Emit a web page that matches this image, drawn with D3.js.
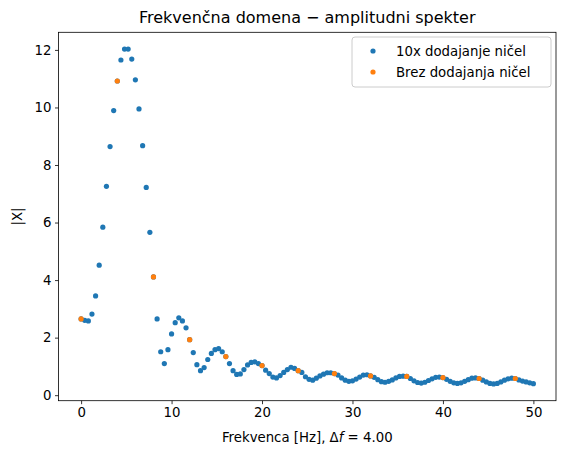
<!DOCTYPE html>
<html><head><meta charset="utf-8">
<script src="https://cdn.jsdelivr.net/npm/d3@7"></script>
<style>body{margin:0;background:#fff}text{font-family:"DejaVu Sans",sans-serif}</style>
</head><body><svg id="c" width="564" height="455"></svg>
<script>
const fStep = 0.4;
const blueValues = [2.65,2.60,2.58,2.82,3.45,4.52,5.84,7.26,8.64,9.89,10.92,11.65,12.03,12.03,11.68,10.96,9.95,8.67,7.22,5.66,4.11,2.65,1.51,1.10,1.58,2.13,2.52,2.69,2.58,2.34,1.93,1.48,1.06,0.85,0.96,1.24,1.45,1.58,1.62,1.51,1.34,1.10,0.85,0.72,0.74,0.89,1.05,1.14,1.16,1.10,1.03,0.87,0.75,0.63,0.60,0.68,0.79,0.89,0.97,0.93,0.85,0.79,0.64,0.55,0.52,0.59,0.67,0.73,0.78,0.78,0.75,0.70,0.60,0.52,0.48,0.50,0.56,0.63,0.70,0.71,0.67,0.62,0.54,0.47,0.45,0.48,0.53,0.60,0.65,0.66,0.65,0.58,0.50,0.44,0.42,0.45,0.51,0.57,0.62,0.63,0.61,0.55,0.48,0.43,0.41,0.43,0.48,0.54,0.59,0.60,0.58,0.52,0.46,0.41,0.39,0.41,0.46,0.52,0.57,0.59,0.58,0.53,0.49,0.46,0.43,0.40];
const orangeFreqs = [0,4,8,12,16,20,24,28,32,36,40,44,48];
const orangeValues = [2.65,10.92,4.11,1.93,1.34,1.03,0.85,0.75,0.67,0.65,0.61,0.58,0.58];
const xTicks = [0,10,20,30,40,50];
const yTicks = [0,2,4,6,8,10,12];
const legendLabels = ["10x dodajanje ničel","Brez dodajanja ničel"];
const colors = ["#1f77b4","#ff7f0e"];

const blue = blueValues.map((v,i)=>({f:i*fStep,v}));
const orange = orangeFreqs.map((f,i)=>({f,v:orangeValues[i]}));
const L=58.5,R=556,T=32.3,B=400.7;
const svg=d3.select("#c");
const ymin=d3.min(blueValues), ymax=d3.max(blueValues), yr=ymax-ymin;
const x=d3.scaleLinear().domain([-2.5,52.5]).range([L,R]);
const y=d3.scaleLinear().domain([ymin-0.05*yr,ymax+0.05*yr]).range([B,T]);

const gx=svg.append("g").attr("transform",`translate(0,${B})`).call(d3.axisBottom(x).tickValues(xTicks).tickSize(3.5).tickPadding(3.5));
const gy=svg.append("g").attr("transform",`translate(${L},0)`).call(d3.axisLeft(y).tickValues(yTicks).tickSize(3.5).tickPadding(3.5));
[gx,gy].forEach(g=>{g.select(".domain").remove();g.selectAll("text").attr("font-size",13.3).attr("fill","#000").attr("font-family","DejaVu Sans");g.selectAll("line").attr("stroke","#000").attr("stroke-width",0.8);});

svg.append("g").selectAll("circle").data(blue).join("circle").attr("cx",d=>x(d.f)).attr("cy",d=>y(d.v)).attr("r",2.6).attr("fill",colors[0]);
svg.append("g").selectAll("circle").data(orange).join("circle").attr("cx",d=>x(d.f)).attr("cy",d=>y(d.v)).attr("r",2.6).attr("fill",colors[1]);

svg.append("rect").attr("x",L).attr("y",T).attr("width",R-L).attr("height",B-T).attr("fill","none").attr("stroke","#000").attr("stroke-width",0.8);

svg.append("text").attr("x",(L+R)/2).attr("y",23).attr("text-anchor","middle").attr("font-size",16).text("Frekvenčna domena − amplitudni spekter");
const xl=svg.append("text").attr("x",(L+R)/2).attr("y",442).attr("text-anchor","middle").attr("font-size",13.3);
xl.append("tspan").text("Frekvenca [Hz], Δ");
xl.append("tspan").attr("font-style","italic").text("f");
xl.append("tspan").text(" = 4.00");
svg.append("text").attr("transform",`translate(22,${(T+B)/2}) rotate(-90)`).attr("text-anchor","middle").attr("font-size",13.3).text("|X|");

const lg=svg.append("g");
lg.append("rect").attr("x",352).attr("y",37).attr("width",199).attr("height",50).attr("rx",3).attr("fill","#fff").attr("fill-opacity",0.8).attr("stroke","#ccc");
legendLabels.forEach((t,i)=>{
  lg.append("circle").attr("cx",373).attr("cy",51+i*21).attr("r",2.6).attr("fill",colors[i]);
  lg.append("text").attr("x",396).attr("y",56+i*21).attr("font-size",13.3).text(t);
});
</script></body></html>
